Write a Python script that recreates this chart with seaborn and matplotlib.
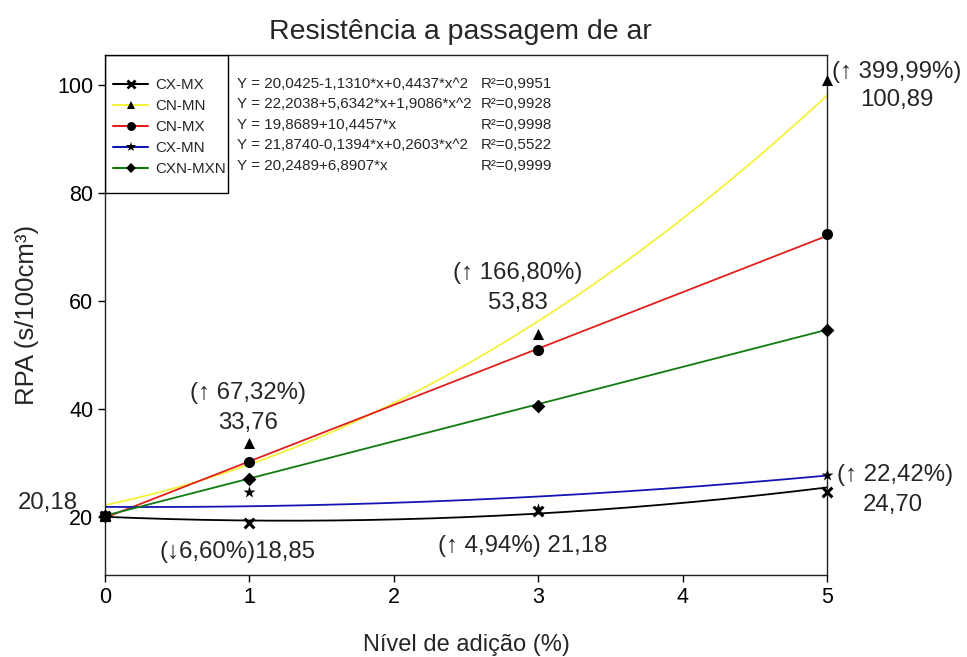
import numpy as np
import pandas as pd
import matplotlib
matplotlib.use("Agg")
import matplotlib.pyplot as plt
from matplotlib.lines import Line2D
from matplotlib.patches import Rectangle
import seaborn as sns

# Measured air-passage resistance (s/100cm³) by addition level (%)
levels = [0, 1, 3, 5]
series = ["CX-MX", "CN-MN", "CN-MX", "CX-MN", "CXN-MXN"]
cx_mx = [20.18, 18.85, 21.18, 24.70]
cn_mn = [20.18, 33.76, 53.83, 100.89]
cn_mx = [20.18, 30.2, 50.9, 72.4]
cx_mn = [20.18, 24.6, 21.5, 27.8]
cxn_mxn = [20.18, 27.0, 40.5, 54.6]

# Regression coefficients (constant, x, x^2)
coef_cx_mx = [20.0425, -1.1310, 0.4437]
coef_cn_mn = [22.2038, 5.6342, 1.9086]
coef_cn_mx = [19.8689, 10.4457, 0.0]
coef_cx_mn = [21.8740, -0.1394, 0.2603]
coef_cxn_mxn = [20.2489, 6.8907, 0.0]

equations = [
    "Y = 20,0425-1,1310*x+0,4437*x^2",
    "Y = 22,2038+5,6342*x+1,9086*x^2",
    "Y = 19,8689+10,4457*x",
    "Y = 21,8740-0,1394*x+0,2603*x^2",
    "Y = 20,2489+6,8907*x",
]
r2_labels = ["R²=0,9951", "R²=0,9928", "R²=0,9998", "R²=0,5522", "R²=0,9999"]

y_ticks = [20, 40, 60, 80, 100]
x_ticks = [0, 1, 2, 3, 4, 5]

values = [cx_mx, cn_mn, cn_mx, cx_mn, cxn_mxn]
coefs = [coef_cx_mx, coef_cn_mn, coef_cn_mx, coef_cx_mn, coef_cxn_mxn]
colors = ["#000000", "#f2f23a", "#e0201c", "#1414b4", "#127a12"]
markers = ["x", "^", "o", "*", "D"]
msizes = [7, 8, 8, 9, 7]

sns.set_style("ticks")
plt.rcParams["font.family"] = ["Liberation Sans", "DejaVu Sans"]
small_size = 10.9

fig = plt.figure(figsize=(9.67, 6.57), dpi=100)
ax = fig.add_axes([105 / 967, 1 - 575 / 657, 722 / 967, 520 / 657])

# Fitted curves
xs = np.linspace(0, 5, 200)
curve_rows = []
for name, c in zip(series, coefs):
    ys = np.polyval(c[::-1], xs)
    curve_rows.append(pd.DataFrame({"x": xs, "y": ys, "serie": name}))
curves = pd.concat(curve_rows, ignore_index=True)
sns.lineplot(data=curves, x="x", y="y", hue="serie", palette=dict(zip(series, colors)),
             linewidth=1.3, legend=False, ax=ax, zorder=2)

# Observed points
for name, v, m, s in zip(series, values, markers, msizes):
    pts = pd.DataFrame({"x": levels, "y": v})
    sns.scatterplot(data=pts, x="x", y="y", marker=m, color="black", s=s ** 2,
                    linewidth=2.2 if m == "x" else 0, edgecolor="black",
                    ax=ax, zorder=3, clip_on=False, legend=False)

ax.set_xlim(0, 5)
ax.set_ylim(9.26, 105.6)
ax.set_xticks(x_ticks)
ax.set_yticks(y_ticks)
ax.tick_params(axis="both", labelsize=15.5, length=5, width=1, direction="out", colors="black")
for sp in ax.spines.values():
    sp.set_linewidth(1.0)
    sp.set_color("#222222")

ax.set_xlabel("Nível de adição (%)", fontsize=17, va="center")
ax.set_ylabel("RPA (s/100cm³)", fontsize=18.5, va="center")
ax.xaxis.set_label_coords(0.5, -(645 - 575) / 520)
ax.yaxis.set_label_coords((27 - 105) / 722, 0.5)
fig.text(460 / 967, 1 - 32 / 657, "Resistência a passagem de ar", ha="center", va="center",
         fontsize=20.5)

# Legend box and entries
ax.add_patch(Rectangle((0, (575 - 193) / 520), (228 - 105) / 722, (193 - 55) / 520,
                       transform=ax.transAxes, fill=False, edgecolor="black",
                       linewidth=1.0, zorder=4))
handles = [Line2D([0], [0], color=c, lw=1.5, marker=m, markersize=s * 0.8,
                  markerfacecolor="black", markeredgecolor="black",
                  markeredgewidth=2 if m == "x" else 0)
           for c, m, s in zip(colors, markers, msizes)]
px_per_em = small_size * 100 / 72
leg = ax.legend(handles, series, loc="upper left",
                bbox_to_anchor=((113 - 105) / 722, (575 - 78) / 520), borderaxespad=0,
                fontsize=small_size, frameon=False, borderpad=0,
                handlelength=35 / px_per_em, handletextpad=7 / px_per_em,
                labelspacing=0.46)

# Equations and R²
row_y = [84, 104, 125, 145, 166]
for eq, r2, py in zip(equations, r2_labels, row_y):
    yf = (575 - py) / 520
    ax.text((237 - 105) / 722, yf, eq, transform=ax.transAxes, fontsize=small_size,
            ha="left", va="center")
    ax.text((481 - 105) / 722, yf, r2, transform=ax.transAxes, fontsize=small_size,
            ha="left", va="center")

# Value annotations
notes = [
    (5.485, 102.4, "(↑ 399,99%)"),
    (5.485, 97.2, "100,89"),
    (2.860, 65.2, "(↑ 166,80%)"),
    (2.860, 59.6, "53,83"),
    (0.990, 43.0, "(↑ 67,32%)"),
    (0.990, 37.4, "33,76"),
    (-0.395, 22.6, "20,18"),
    (0.921, 13.5, "(↓6,60%)18,85"),
    (2.895, 14.6, "(↑ 4,94%) 21,18"),
    (5.471, 27.8, "(↑ 22,42%)"),
    (5.457, 22.2, "24,70"),
]
for x, y, t in notes:
    ax.text(x, y, t, fontsize=17.3, ha="center", va="center", clip_on=False,
            family=["Liberation Sans", "DejaVu Sans"])

fig.savefig("out.png", dpi=100)
